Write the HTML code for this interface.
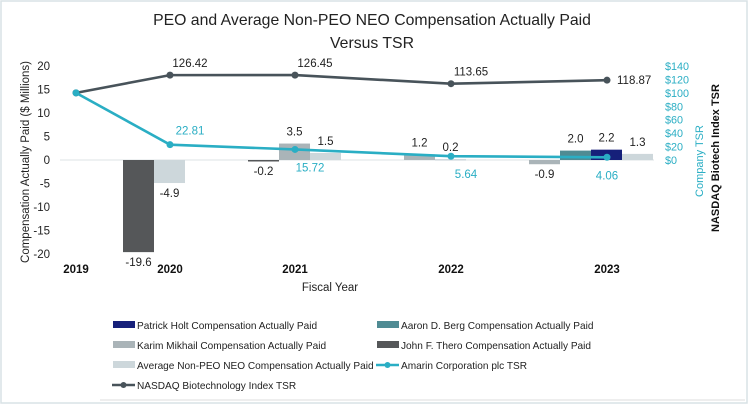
<!DOCTYPE html>
<html><head><meta charset="utf-8"><style>
body{margin:0;background:#fff;}
svg{display:block;font-family:"Liberation Sans",sans-serif;}
</style></head><body>
<svg id="c" width="748" height="404" viewBox="0 0 748 404">
<rect x="1" y="1" width="746" height="402" fill="#fff" stroke="#d9e2e5" stroke-width="1.5"/>
<text x="372" y="25" text-anchor="middle" font-size="15.8" fill="#222">PEO and Average Non-PEO NEO Compensation Actually Paid</text>
<text x="372" y="48" text-anchor="middle" font-size="15.8" fill="#222">Versus TSR</text>
<text transform="translate(29,162) rotate(-90)" text-anchor="middle" font-size="11.5" fill="#222">Compensation Actually Paid ($ Millions)</text>
<text transform="translate(703,161) rotate(-90)" text-anchor="middle" font-size="11" fill="#2aaec4">Company TSR</text>
<text transform="translate(719,158) rotate(-90)" text-anchor="middle" font-size="11" font-weight="bold" fill="#111">NASDAQ Biotech Index TSR</text>
<text x="330" y="291" text-anchor="middle" font-size="11.5" fill="#222">Fiscal Year</text>
<g id="plot"></g>
<g id="legend"></g>
<line x1="100" y1="400" x2="745" y2="400" stroke="#ddd"/>
</svg>
<script>
const years = ["2019","2020","2021","2022","2023"];
const thero = [null,-19.6,-0.2,null,null];
const karim = [null,null,3.5,1.2,-0.9];
const berg = [null,null,null,null,2.0];
const holt = [null,null,null,null,2.2];
const avgNeo = [null,-4.9,1.5,0.2,1.3];
const companyTsr = [100,22.81,15.72,5.64,4.06];
const nasdaqTsr = [100,126.42,126.45,113.65,118.87];
const leftTicks = [20,15,10,5,0,-5,-10,-15,-20];
const rightTicks = [140,120,100,80,60,40,20,0];

// layout
const catX = [76,170,295,451,607];
const barStartX = [null,123,248,404,529];
const barW = 31;
const y = v => 160 - v*4.7;
const yR = v => y(v/7);
const NS="http://www.w3.org/2000/svg";
const plot=document.getElementById('plot');
function el(tag,attrs,parent){const e=document.createElementNS(NS,tag);for(const k in attrs)e.setAttribute(k,attrs[k]);(parent||plot).appendChild(e);return e;}
function txt(x,yy,s,attrs,parent){const t=el('text',Object.assign({x:x,y:yy},attrs),parent);t.textContent=s;return t;}

leftTicks.forEach(v=>{const t=txt(50,y(v)+4,String(v),{'text-anchor':'end','font-size':11.5,fill:'#222'});

});
rightTicks.forEach(v=>{const t=txt(665,yR(v)+4,'$'+v,{'font-size':10.8,fill:'#2aaec4'});

});
years.forEach((s,i)=>{const t=txt(catX[i],273,s,{'text-anchor':'middle','font-size':11.5,'font-weight':'bold',fill:'#111'});

});

const zl=el('line',{x1:60,y1:y(0),x2:654,y2:y(0),stroke:'#dde3e5','stroke-width':1});



const series=[
 {d:thero,c:'#555759',n:'thero'},
 {d:karim,c:'#aab4b8',n:'karim'},
 {d:berg,c:'#4f8b93',n:'berg'},
 {d:holt,c:'#16207a',n:'holt'},
 {d:avgNeo,c:'#cdd7db',n:'avg-neo'}];
years.forEach((yr,i)=>{
 if(barStartX[i]==null)return;
 let k=0;
 series.forEach(s=>{
  const v=s.d[i]; if(v==null)return;
  const x=barStartX[i]+k*barW; k++;
  const y0=y(0),y1=y(v);
  const r=el('rect',{x:x,y:Math.min(y0,y1),width:barW,height:Math.max(1.5,Math.abs(y1-y0)),fill:s.c});
  
  
  const ly = v>=0 ? y1-8 : y1+14;
  const t=txt(x+barW/2,ly,v.toFixed(1),{'text-anchor':'middle','font-size':11.5,fill:'#222'});
  
  
 });
});

function line(d,color,name,labelPos){
 const pts=d.map((v,i)=>catX[i]+','+yR(v)).join(' ');
 const p=el('polyline',{points:pts,fill:'none',stroke:color,'stroke-width':2.6});
 
 
 d.forEach((v,i)=>{
  const c=el('circle',{cx:catX[i],cy:yR(v),r:3.5,fill:color});
  
  
  if(i>0){const lp=labelPos(i,v);
   const t=txt(lp[0],lp[1],v.toFixed(2),{'text-anchor':lp[2],'font-size':11.5,fill:lp[3]});
   
   }
 });
}
line(nasdaqTsr,'#48535a','nasdaq-tsr',(i,v)=> i==4?[catX[i]+10,yR(v)+4,'start','#222']:[catX[i]+20,yR(v)-8,'middle','#222']);
line(companyTsr,'#2aaec4','company-tsr',(i,v)=> i==1?[catX[i]+20,yR(v)-10,'middle','#2aaec4']:[catX[i]+(i==4?0:15),yR(v)+22,'middle','#2aaec4']);

const lg=document.getElementById('legend');
const leg=[
 ['rect','#16207a','Patrick Holt Compensation Actually Paid',113,325],
 ['rect','#4f8b93','Aaron D. Berg Compensation Actually Paid',377,325],
 ['rect','#aab4b8','Karim Mikhail Compensation Actually Paid',113,345],
 ['rect','#555759','John F. Thero Compensation Actually Paid',377,345],
 ['rect','#cdd7db','Average Non-PEO NEO Compensation Actually Paid',113,365],
 ['line','#2aaec4','Amarin Corporation plc TSR',377,365],
 ['line','#48535a','NASDAQ Biotechnology Index TSR',113,385]];
leg.forEach(l=>{
 const g=el('g',{},lg);
 
 
 if(l[0]=='rect') el('rect',{x:l[3],y:l[4]-4,width:22,height:7,fill:l[1]},g);
 else {el('line',{x1:l[3]-1,y1:l[4],x2:l[3]+22,y2:l[4],stroke:l[1],'stroke-width':2.5},g);el('circle',{cx:l[3]+10.5,cy:l[4],r:3,fill:l[1]},g);}
 txt(l[3]+24,l[4]+4,l[2],{'font-size':10.1,fill:'#222'},g);
});
</script>
</body></html>
